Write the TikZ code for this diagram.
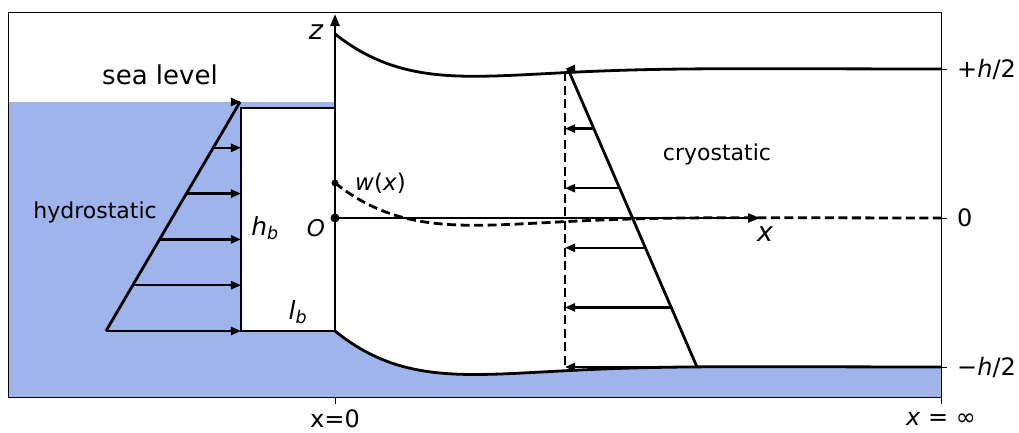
\documentclass[tikz,border=0pt]{standalone}
\usepackage{fontspec}
\setmainfont{DejaVu Sans}
\usetikzlibrary{arrows.meta,positioning,calc}
\definecolor{seablue}{RGB}{160,180,236}

\begin{document}
\begin{tikzpicture}[x=1pt,y=1pt,
  declare function={wfl(\t)=exp(-\t)*(cos(deg(\t))-sin(deg(\t)));},
  ice/.style={line width=2.8pt},
  load/.style={line width=2.3pt,-{Triangle[length=10pt,width=8pt]}},
  axis/.style={line width=2.5pt,-{Triangle[length=12pt,width=9pt]}},
  tick/.style={line width=1pt},
  big/.style={inner sep=0pt,font=\fontsize{26}{30}\selectfont},
  mid/.style={inner sep=0pt,font=\fontsize{22}{26}\selectfont},
  ticklab/.style={inner sep=0pt,font=\fontsize{24}{28}\selectfont},
  var/.style={inner sep=0pt,font=\fontsize{27}{31}\selectfont\itshape}]
  \useasboundingbox (-335,-214) rectangle (684,218);
  % water
  \fill[seablue] (-326,116) -- (0,116) -- (0,-113)
    -- plot[domain=0:606,samples=120] (\x,{-149+36*wfl(\x/89)})
    -- (606,-179) -- (-326,-179) -- cycle;
  \fill[white] (-94,110) rectangle (0,-113);
  % ice berm
  \draw[ice] (0,110) -- (-94,110) -- (-94,-113) -- (0,-113);
  % ice surfaces
  \draw[ice] plot[domain=0:606,samples=120] (\x,{149+35*wfl(\x/89)});
  \draw[ice] plot[domain=0:606,samples=120] (\x,{-149+36*wfl(\x/89)});
  \draw[ice,dash pattern=on 9pt off 4.5pt] plot[domain=0:606,samples=120] (\x,{35*wfl(\x/89)});
  % axes
  \coordinate (O) at (0,0);
  \coordinate (wO) at (0,35);
  \coordinate (zbase) at (0,-113);
  \coordinate (ztip) at (0,204);
  \coordinate (xtip) at (425,0);
  \draw[axis] (zbase) -- (ztip);
  \draw[axis] (O) -- (xtip);
  \fill (O) circle (4.5pt);
  \fill (wO) circle (3.5pt);
  % hydrostatic load
  \draw[ice] (-229,-113) -- (-95,116);
  \foreach \k in {0,...,5}{
    \pgfmathsetmacro{\yy}{116-\k*45.8}
    \pgfmathsetmacro{\xx}{-229+(\yy+113)/229*134}
    \draw[load] (\xx,\yy) -- (-94,\yy);
  }
  % cryostatic load
  \draw[ice,dash pattern=on 9pt off 4.5pt] (230,146) -- (230,-149);
  \draw[ice] (233,149) -- (362,-149);
  \foreach \k in {0,...,5}{
    \pgfmathsetmacro{\yy}{149-\k*59.6}
    \pgfmathsetmacro{\xx}{233+(149-\yy)/298*129}
    \draw[load] (\xx,\yy) -- (230,\yy);
  }
  % frame and ticks
  \draw[tick] (-326,-179) rectangle (606,206);
  \foreach \yy in {149,0,-149}
    \draw[tick] (606,\yy) -- (612,\yy);
  \foreach \xx in {0,606}
    \draw[tick] (\xx,-179) -- (\xx,-186);
  % labels
  \node[big] (sealab) at (-175,143) {sea level};
  \node[mid] (hydlab) at (-240,6) {hydrostatic};
  \node[mid] (cryolab) at (382,64) {cryostatic};
  \node[var] (zlab) at (-19,186) {z};
  \node[var] (xlab) at (430,-16) {x};
  \node[var,font=\fontsize{23}{27}\selectfont\itshape] (Olab) at (-19,-10) {O};
  \node[var,font=\fontsize{23}{27}\selectfont,anchor=west] (wlab) at (20,35) {\textit{w}(\textit{x})};
  \node[var,font=\fontsize{25}{29}\selectfont\itshape] (hblab) at (-70,-10) {h\textsubscript{b}};
  \node[var,font=\fontsize{25}{29}\selectfont\itshape] (lblab) at (-37,-94) {l\textsubscript{b}};
  \node[ticklab,anchor=west] (toplab) at (622,149) {+\textit{h}/2};
  \node[ticklab,anchor=west] (zerolab) at (622,0) {0};
  \node[ticklab,anchor=west] (botlab) at (622,-149) {−\textit{h}/2};
  \node[ticklab] (x0lab) at (0,-201) {x=0};
  \node[ticklab] (xinflab) at (606,-201) {\textit{x} = ∞};
\end{tikzpicture}
\end{document}
